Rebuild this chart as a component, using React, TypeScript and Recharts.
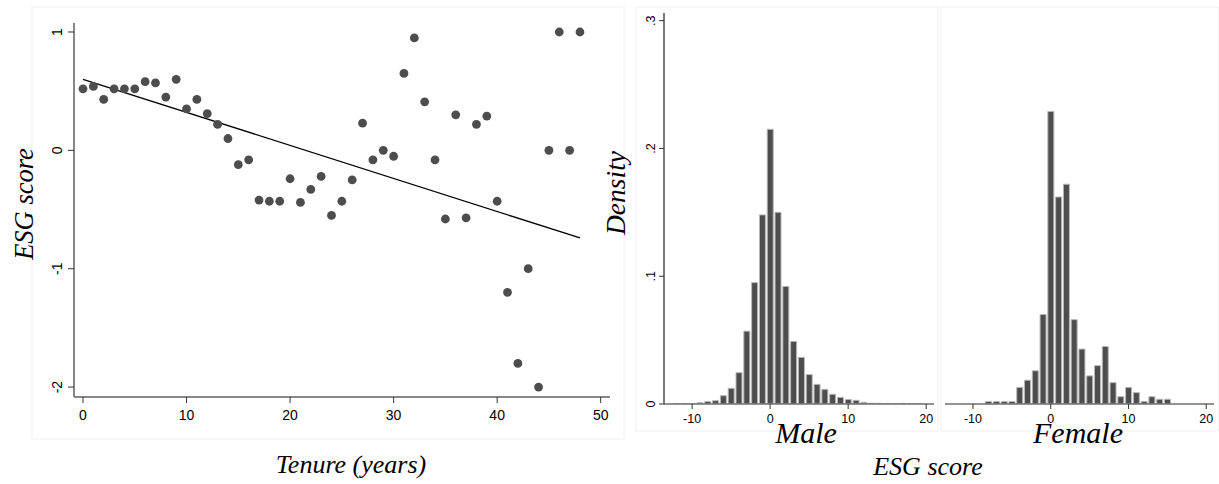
import {
  ComposedChart,
  Scatter,
  Line,
  BarChart,
  Bar,
  XAxis,
  YAxis,
} from "recharts";

// left panel: mean ESG score by tenure
const tenure: number[] = [
  0, 1, 2, 3, 4, 5, 6, 7, 8, 9, 10, 11, 12, 13, 14, 15, 16, 17, 18, 19, 20, 21, 22, 23, 24,
  25, 26, 27, 28, 29, 30, 31, 32, 33, 34, 35, 36, 37, 38, 39, 40, 41, 42, 43, 44, 45, 46, 47, 48,
];
const esgScore: number[] = [
  0.52, 0.54, 0.43, 0.52, 0.52, 0.52, 0.58, 0.57, 0.45, 0.6, 0.35, 0.43, 0.31, 0.22, 0.1,
  -0.12, -0.08, -0.42, -0.43, -0.43, -0.24, -0.44, -0.33, -0.22, -0.55, -0.43, -0.25, 0.23,
  -0.08, 0.0, -0.05, 0.65, 0.95, 0.41, -0.08, -0.58, 0.3, -0.57, 0.22, 0.29, -0.43, -1.2,
  -1.8, -1.0, -2.0, 0.0, 1.0, 0.0, 1.0,
];
const fitX: number[] = [0, 48];
const fitY: number[] = [0.6, -0.74];
const tenureTicks: number[] = [0, 10, 20, 30, 40, 50];
const scoreTicks: number[] = [-2, -1, 0, 1];

// right panels: histograms of ESG score
const maleBins: number[] = [
  -12, -11, -10, -9, -8, -7, -6, -5, -4, -3, -2, -1, 0, 1, 2, 3, 4, 5, 6, 7, 8, 9, 10, 11, 12,
  13, 14, 15, 16, 17, 18, 19,
];
const maleDensity: number[] = [
  0.0003, 0.0003, 0.0004, 0.001, 0.002, 0.0026, 0.0065, 0.0123, 0.0245, 0.057, 0.095, 0.148,
  0.215, 0.15, 0.092, 0.049, 0.0365, 0.023, 0.0154, 0.0115, 0.0076, 0.0052, 0.0036, 0.0029,
  0.0013, 0.0006, 0.0005, 0.0005, 0.0004, 0.0005, 0.0004, 0.0004,
];
const femaleBins: number[] = [
  -8, -7, -6, -5, -4, -3, -2, -1, 0, 1, 2, 3, 4, 5, 6, 7, 8, 9, 10, 11, 12, 13, 14, 15,
];
const femaleDensity: number[] = [
  0.002, 0.002, 0.002, 0.002, 0.013, 0.0186, 0.026, 0.07, 0.229, 0.162, 0.172, 0.066, 0.043,
  0.022, 0.03, 0.045, 0.0167, 0.0057, 0.013, 0.0089, 0.002, 0.0057, 0.0037, 0.0037,
];
const esgTicks: number[] = [-10, 0, 10, 20];
const densityTicks: number[] = [0, 0.1, 0.2, 0.3];

const points = tenure.map((t, i) => ({ x: t, y: esgScore[i] }));
const fitLine = fitX.map((x, i) => ({ x, y: fitY[i] }));
const maleData = maleBins.map((b, i) => ({ bin: b, density: maleDensity[i] }));
const femaleData = femaleBins.map((b, i) => ({ bin: b, density: femaleDensity[i] }));

const SANS = "'Liberation Sans', Arial, sans-serif";
const SERIF = "'Liberation Serif', 'Times New Roman', serif";

const RotTick = (props: any) => {
  const { x, y, payload, fontSize, fmt } = props;
  const label = fmt ? fmt(payload.value) : String(payload.value);
  return (
    <text
      x={x}
      y={y}
      transform={`rotate(-90 ${x} ${y})`}
      textAnchor="middle"
      fontSize={fontSize}
      fontFamily={SANS}
      fill="#000"
    >
      {label}
    </text>
  );
};

const fmtDensity = (v: number) => (v === 0 ? "0" : "." + Math.round(v * 10));

const Dot = (props: any) => (
  <circle cx={props.cx} cy={props.cy} r={4.4} fill="#4d4d4d" />
);

function Histogram({ data, showY }: { data: any[]; showY: boolean }) {
  return (
    <BarChart
      width={showY ? 320 : 280}
      height={484}
      data={data}
      barCategoryGap={1}
      margin={{ top: 13, right: 6, left: showY ? 20 : 5, bottom: 50 }}
    >
      <XAxis
        dataKey="bin"
        type="number"
        domain={[-13.6, 21]}
        allowDataOverflow
        ticks={esgTicks}
        interval={0}
        height={30}
        tickSize={5}
        tickMargin={5}
        axisLine={{ stroke: "#6e6e6e", strokeWidth: 1.5 }}
        tickLine={{ stroke: "#333" }}
        tick={{ fontSize: 12.5, fill: "#000", fontFamily: SANS }}
      />
      <YAxis
        hide={!showY}
        width={24}
        domain={[0, 0.306]}
        allowDataOverflow
        ticks={densityTicks}
        interval={0}
        tickSize={5}
        tickMargin={4}
        axisLine={{ stroke: "#222", strokeWidth: 1.2 }}
        tickLine={{ stroke: "#333" }}
        tick={<RotTick fontSize={12.5} fmt={fmtDensity} />}
      />
      <Bar
        dataKey="density"
        fill="#4d4d4d"
        stroke="#b8b8b8"
        strokeWidth={1}
        isAnimationActive={false}
      />
    </BarChart>
  );
}

export default function App() {
  return (
    <div
      style={{
        position: "absolute",
        left: 0,
        top: 0,
        width: 1219,
        height: 484,
        background: "#fff",
        overflow: "hidden",
      }}
    >
      <div style={{ position: "absolute", left: 0, top: 0 }}>
        <ComposedChart
          width={620}
          height={484}
          margin={{ top: 23, right: 10, left: 44, bottom: 57 }}
        >
          <XAxis
            dataKey="x"
            type="number"
            domain={[-0.87, 50.9]}
            allowDataOverflow
            ticks={tenureTicks}
            interval={0}
            height={30}
            tickSize={6}
            tickMargin={7}
            axisLine={{ stroke: "#111", strokeWidth: 1.2 }}
            tickLine={{ stroke: "#333" }}
            tick={{ fontSize: 14, fill: "#000", fontFamily: SANS }}
          />
          <YAxis
            dataKey="y"
            type="number"
            width={30}
            domain={[-2.084, 1.076]}
            allowDataOverflow
            ticks={scoreTicks}
            interval={0}
            tickSize={6}
            tickMargin={6}
            axisLine={{ stroke: "#7a7a7a", strokeWidth: 1.8 }}
            tickLine={{ stroke: "#333" }}
            tick={<RotTick fontSize={14} />}
          />
          <Scatter data={points} shape={<Dot />} isAnimationActive={false} />
          <Line
            data={fitLine}
            dataKey="y"
            stroke="#000"
            strokeWidth={1.3}
            dot={false}
            activeDot={false}
            isAnimationActive={false}
          />
        </ComposedChart>
      </div>
      <div style={{ position: "absolute", left: 620, top: 0 }}>
        <Histogram data={maleData} showY />
      </div>
      <div style={{ position: "absolute", left: 940, top: 0 }}>
        <Histogram data={femaleData} showY={false} />
      </div>
      <svg
        width={1219}
        height={484}
        style={{ position: "absolute", left: 0, top: 0, pointerEvents: "none" }}
      >
        <rect x={32} y={7} width={592} height={432} fill="none" stroke="#f0f0f0" />
        <rect x={636} y={7} width={302} height={424} fill="none" stroke="#f0f0f0" />
        <rect x={941} y={7} width={277} height={424} fill="none" stroke="#f0f0f0" />
        <text
          x={33}
          y={204}
          transform="rotate(-90 33 204)"
          textAnchor="middle"
          fontSize={26.5}
          fontStyle="italic"
          fontFamily={SERIF}
        >
          ESG score
        </text>
        <text x={351} y={473} textAnchor="middle" fontSize={26} fontStyle="italic" fontFamily={SERIF}>
          Tenure (years)
        </text>
        <text
          x={625}
          y={193}
          transform="rotate(-90 625 193)"
          textAnchor="middle"
          fontSize={27.5}
          fontStyle="italic"
          fontFamily={SERIF}
        >
          Density
        </text>
        <text x={806} y={443} textAnchor="middle" fontSize={30} fontStyle="italic" fontFamily={SERIF}>
          Male
        </text>
        <text x={1078} y={443} textAnchor="middle" fontSize={30} fontStyle="italic" fontFamily={SERIF}>
          Female
        </text>
        <text x={928} y={475} textAnchor="middle" fontSize={26} fontStyle="italic" fontFamily={SERIF}>
          ESG score
        </text>
      </svg>
    </div>
  );
}
